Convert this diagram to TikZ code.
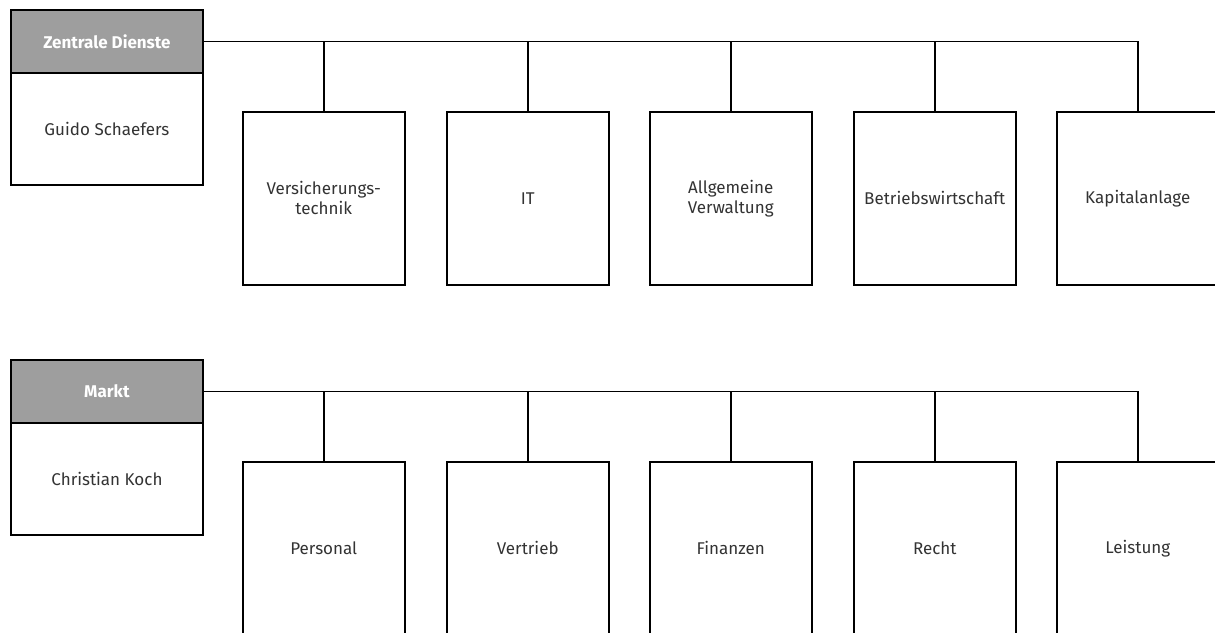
\documentclass[tikz,border=0pt]{standalone}
\usepackage{fontspec}
\setmainfont{Fira Sans}
\definecolor{txt}{HTML}{333333}
\definecolor{headfill}{HTML}{9E9E9E}
\begin{document}
\begin{tikzpicture}[x=1pt,y=-1pt,
  headbox/.style={draw=black,line width=1.9pt,fill=headfill,text=white,font=\fontsize{17}{20}\selectfont\bfseries,minimum width=192pt,minimum height=63pt,inner sep=0pt,anchor=north west},
  namebox/.style={draw=black,line width=1.9pt,fill=white,text=txt,font=\fontsize{17}{20}\selectfont,minimum width=192pt,minimum height=112pt,inner sep=0pt,anchor=north west},
  unitbox/.style={draw=black,line width=1.5pt,fill=white,text=txt,font=\fontsize{17}{20}\selectfont,align=center,minimum width=162pt,minimum height=173pt,inner sep=0pt,anchor=north west},
  conn/.style={draw=black,line width=1.5pt}]
\useasboundingbox (0,0) rectangle (1215,632);
\clip (0,0) rectangle (1215,632);

% top group
\node[headbox] (h1) at (10,9) {Zentrale Dienste};
\node[namebox] (n1) at (10,72) {Guido Schaefers};
\node[unitbox] (a1) at (242,111) {Versicherungs-\\technik};
\node[unitbox] (a2) at (446,111) {IT};
\node[unitbox] (a3) at (649,111) {Allgemeine\\Verwaltung};
\node[unitbox] (a4) at (853,111) {Betriebswirtschaft};
\node[unitbox] (a5) at (1056,111) {Kapitalanlage};
\draw[conn,line width=1.9pt] (h1.east) -- (h1.east -| a1.north);
\draw[conn] (h1.east -| a1.north) -- (h1.east -| a5.north);
\foreach \i in {1,...,5} \draw[conn] (h1.east -| a\i.north) -- (a\i.north);

% bottom group
\node[headbox] (h2) at (10,359) {Markt};
\node[namebox] (n2) at (10,422) {Christian Koch};
\node[unitbox] (b1) at (242,461) {Personal};
\node[unitbox] (b2) at (446,461) {Vertrieb};
\node[unitbox] (b3) at (649,461) {Finanzen};
\node[unitbox] (b4) at (853,461) {Recht};
\node[unitbox] (b5) at (1056,461) {Leistung};
\draw[conn,line width=1.9pt] (h2.east) -- (h2.east -| b1.north);
\draw[conn] (h2.east -| b1.north) -- (h2.east -| b5.north);
\foreach \i in {1,...,5} \draw[conn] (h2.east -| b\i.north) -- (b\i.north);
\end{tikzpicture}
\end{document}
